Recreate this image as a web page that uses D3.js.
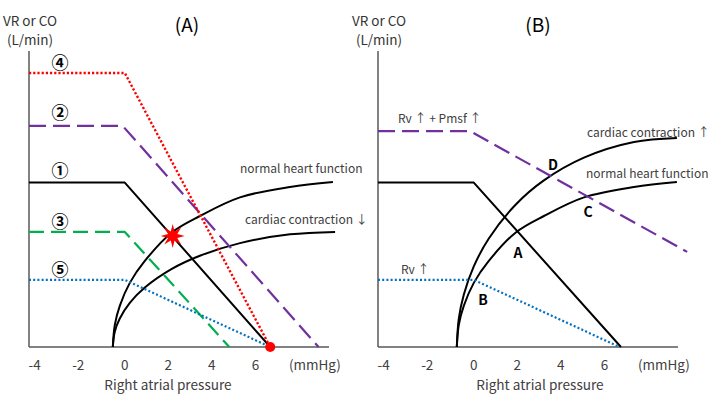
<!DOCTYPE html>
<html>
<head>
<meta charset="utf-8">
<script src="https://cdnjs.cloudflare.com/ajax/libs/d3/7.8.5/d3.min.js"></script>
<style>
  body { margin: 0; background: #fff; }
  text { font-family: "Noto Sans CJK JP", "Noto Sans", sans-serif; }
</style>
</head>
<body>
<script>
// x ticks (mmHg)
const xTicks = [-4, -2, 0, 2, 4, 6]

// venous return lines, panel A : [pressure, flow]
const vrNormalA = [[-4.4, 6.0], [0, 6.0], [6.68, 0]]          // (1)
const vrPurpleA = [[-4.4, 8.07], [-0.1, 8.07], [8.9, 0]]       // (2)
const vrGreenA = [[-4.4, 4.2], [0, 4.2], [4.8, 0]]             // (3)
const vrRedA = [[-4.4, 10.0], [0, 10.0], [6.68, 0]]            // (4)
const vrBlueA = [[-4.4, 2.45], [0, 2.45], [6.68, 0]]           // (5)

// venous return lines, panel B
const vrNormalB = [[-4.4, 6.0], [0, 6.0], [6.76, 0]]
const vrPurpleB = [[-4.4, 7.88], [-0.18, 7.88], [9.8, 3.47]]
const vrBlueB = [[-4.4, 2.45], [0, 2.45], [6.7, 0]]

// cardiac function curves
const cardiacNormalA = [[-0.55, 0], [-0.46, 0.80], [-0.23, 1.50], [0.23, 2.34], [0.92, 3.14],
  [2.16, 4.18], [3.45, 4.78], [5.29, 5.46], [7.59, 5.84], [9.56, 6.02]]
const cardiacDownA = [[-0.55, 0], [-0.46, 0.56], [-0.23, 1.04], [0.23, 1.61], [0.92, 2.17],
  [2.16, 2.85], [3.45, 3.33], [5.29, 3.79], [7.59, 4.11], [9.66, 4.20]]
const cardiacNormalB = [[-0.78, 0], [-0.69, 0.80], [-0.46, 1.50], [0, 2.34], [0.69, 3.14],
  [1.93, 4.18], [3.22, 4.78], [5.06, 5.46], [7.36, 5.84], [9.33, 6.02]]
const cardiacUpB = [[-0.78, 0], [-0.69, 1.03], [-0.46, 1.91], [0, 2.94], [0.69, 3.96],
  [1.93, 5.20], [3.22, 6.08], [5.06, 6.91], [7.36, 7.48], [9.33, 7.63]]

const starPoint = [2.2, 4.05]
const dotPoint = [6.68, 0]

const width = 709, height = 394
const svg = d3.select('body').append('svg')
  .attr('width', width).attr('height', height)

const y = d3.scaleLinear().domain([0, 10.8]).range([347, 51])
const xA = d3.scaleLinear().domain([-4.4, 9.38]).range([29, 329])
const xB = d3.scaleLinear().domain([-4.4, 9.38]).range([378, 678])

const black = '#000', grey = '#404040'

function panel(x, title, titleX, labelX) {
  const g = svg.append('g')
  // axes
  g.append('line').attr('x1', x(-4.4)).attr('x2', x(-4.4))
    .attr('y1', y(10.8)).attr('y2', y(0))
    .attr('stroke', '#595959').attr('stroke-width', 1.5)
  g.append('line').attr('x1', x(-4.4)).attr('x2', x(9.38))
    .attr('y1', y(0)).attr('y2', y(0))
    .attr('stroke', '#595959').attr('stroke-width', 1.5)

  g.selectAll('.tick').data(xTicks).join('text')
    .attr('x', d => x(d) - (d < 0 ? 3 : 0)).attr('y', 369.5)
    .attr('text-anchor', 'middle').attr('font-size', 13.5).attr('fill', grey)
    .text(d => d)
  g.append('text').attr('x', x(8.73)).attr('y', 369.5)
    .attr('text-anchor', 'middle').attr('font-size', 13.5).attr('fill', grey)
    .text('(mmHg)')
  g.append('text').attr('x', labelX).attr('y', 390)
    .attr('text-anchor', 'middle').attr('font-size', 13.6).attr('fill', grey)
    .text('Right atrial pressure')

  g.append('text').attr('x', x(-4.4) + 1).attr('y', 26)
    .attr('text-anchor', 'middle').attr('font-size', 13.5).attr('fill', '#333')
    .text('VR or CO')
  g.append('text').attr('x', x(-4.4) + 1).attr('y', 45)
    .attr('text-anchor', 'middle').attr('font-size', 13.5).attr('fill', '#333')
    .text('(L/min)')
  g.append('text').attr('x', titleX).attr('y', 32)
    .attr('text-anchor', 'middle').attr('font-size', 19).attr('fill', black)
    .text(title)
  return g
}

function draw(g, x, data, color, w, dash, curve) {
  const line = d3.line().x(d => x(d[0])).y(d => y(d[1]))
    .curve(curve || d3.curveLinear)
  g.append('path').datum(data).attr('d', line)
    .attr('fill', 'none').attr('stroke', color).attr('stroke-width', w)
    .attr('stroke-dasharray', dash || null)
    .attr('stroke-linejoin', 'round')
}

function label(g, px, py, txt, size, color, weight, anchor) {
  g.append('text').attr('x', px).attr('y', py)
    .attr('font-size', size).attr('fill', color)
    .attr('font-weight', weight || 'normal')
    .attr('text-anchor', anchor || 'start')
    .text(txt)
}

// ---- panel A
const gA = panel(xA, '(A)', 187, 168)
draw(gA, xA, cardiacNormalA, black, 2, null, d3.curveCatmullRom)
draw(gA, xA, cardiacDownA, black, 2, null, d3.curveCatmullRom)
draw(gA, xA, vrNormalA, black, 2)
draw(gA, xA, vrGreenA, '#00b050', 2.2, '15,7')
draw(gA, xA, vrPurpleA, '#7030a0', 2.2, '17,7')
draw(gA, xA, vrBlueA, '#0070c0', 2.2, '2,2.2')
draw(gA, xA, vrRedA, '#ff0000', 2.4, '2.2,2')

gA.append('circle').attr('cx', xA(dotPoint[0])).attr('cy', y(dotPoint[1]))
  .attr('r', 5).attr('fill', '#ff0000')

const star = d3.range(16).map(i => {
  const a = i * Math.PI / 8 - Math.PI / 2
  const r = i % 2 ? 5 : 12
  return [r * Math.cos(a), r * Math.sin(a)]
})
gA.append('path').attr('d', d3.line()(star) + 'Z')
  .attr('transform', `translate(${xA(starPoint[0])},${y(starPoint[1])})`)
  .attr('fill', '#ff0000')

label(gA, 60, 69, '④', 17, black, 'bold', 'middle')
label(gA, 60, 119, '②', 17, black, 'bold', 'middle')
label(gA, 60, 177, '①', 17, black, 'bold', 'middle')
label(gA, 60, 228, '③', 17, black, 'bold', 'middle')
label(gA, 60, 276, '⑤', 17, black, 'bold', 'middle')
label(gA, 240, 173, 'normal heart function', 12, grey)
label(gA, 245, 224, 'cardiac contraction ↓', 12, grey)

// ---- panel B
const gB = panel(xB, '(B)', 538, 540)
draw(gB, xB, cardiacUpB, black, 2, null, d3.curveCatmullRom)
draw(gB, xB, cardiacNormalB, black, 2, null, d3.curveCatmullRom)
draw(gB, xB, vrNormalB, black, 2)
draw(gB, xB, vrPurpleB, '#7030a0', 2.2, '17,7')
draw(gB, xB, vrBlueB, '#0070c0', 2.2, '2,2.2')

label(gB, 398, 123, 'Rv ↑ + Pmsf ↑', 12, grey)
label(gB, 401, 274, 'Rv ↑', 12, grey)
label(gB, 587, 137, 'cardiac contraction ↑', 12, grey)
label(gB, 586, 178, 'normal heart function', 12, grey)
label(gB, 553, 170, 'D', 14, black, 'bold', 'middle')
label(gB, 588, 217, 'C', 14, black, 'bold', 'middle')
label(gB, 518, 258, 'A', 14, black, 'bold', 'middle')
label(gB, 483, 305, 'B', 14, black, 'bold', 'middle')
</script>
</body>
</html>
